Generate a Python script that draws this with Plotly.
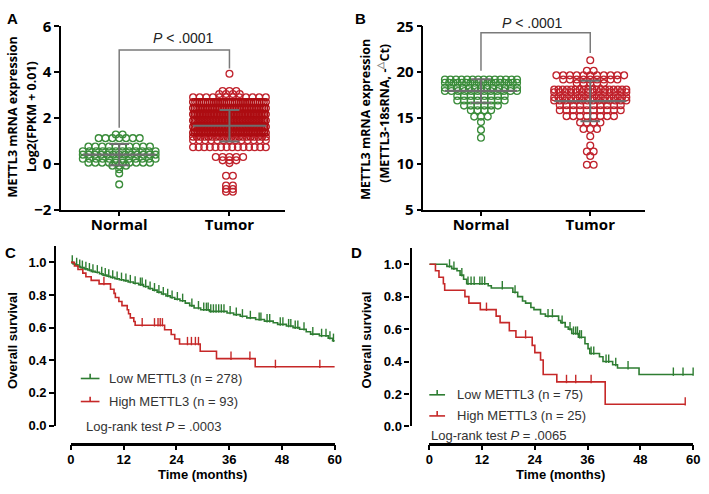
import plotly.graph_objects as go

W, H = 709, 494
def px(x): return x / W
def py(y): return 1 - y / H

# ---------------- data ----------------
groups = ["Normal", "Tumor"]

# Panel A: beeswarm rows (value, count)
a_norm_vals = [1.28, 1.12, 0.75, 0.55, 0.40, 0.22, 0.05, -0.08, -0.24, -0.42, -0.90]
a_norm_cnt = [2, 7, 10, 12, 13, 12, 10, 3, 1, 1, 1]
a_tum_vals = [3.93, 3.18, 3.05, 2.90, 2.70, 2.43, 2.16, 1.89, 1.62, 1.35, 1.18, 1.03, 0.72,
              0.30, 0.15, 0.03, -0.52, -0.95, -1.10, -1.22]
a_tum_cnt = [1, 3, 4, 12, 36, 44, 48, 50, 50, 46, 20, 13, 14, 5, 3, 1, 2, 2, 2, 2]
a_mean = [0.40, 1.66]
a_sd = [0.46, 0.69]
a_p = "<i>P</i> < .0001"
a_bracket = [4.97, 1.57, 4.16]   # top, left leg end, right leg end

# Panel B
b_norm_vals = [19.2, 18.85, 18.3, 17.95, 17.4, 16.9, 16.35, 15.85, 15.15, 14.55, 13.7, 12.85]
b_norm_cnt = [14, 18, 13, 12, 8, 8, 6, 4, 3, 1, 1, 1]
b_tum_vals = [21.3, 20.15, 19.65, 19.2, 18.8, 18.1, 17.8, 17.25, 16.9, 16.4, 15.85, 15.2,
              14.5, 13.8, 13.0, 12.0, 11.35, 10.85, 9.9]
b_tum_cnt = [1, 2, 11, 9, 5, 18, 14, 18, 14, 10, 10, 8, 4, 3, 1, 1, 2, 1, 2]
b_mean = [17.95, 16.85]
b_sd = [1.28, 2.2]
b_p = "<i>P</i> < .0001"
b_bracket = [24.3, 20.15, 22.1]

# Panel C: Kaplan-Meier (TCGA)
c_low_t = [0, 0.5, 1.0, 1.6, 2.2, 3.0, 3.8, 4.6, 5.5, 6.5, 7.3, 8.2, 9.0, 10.0, 11.0, 12.0,
           13.0, 14.2, 15.4, 16.5, 17.6, 18.6, 19.6, 20.6, 21.6, 22.6, 23.6, 24.8, 26.0,
           27.0, 28.0, 29.5, 31.5, 35.5, 37.0, 38.5, 40.0, 42.0, 44.0, 46.0, 47.0, 49.0,
           50.5, 52.0, 53.5, 54.5, 56.5, 58.5, 59.5, 60.0]
c_low_s = [1.0, 0.99, 0.985, 0.975, 0.968, 0.96, 0.953, 0.945, 0.94, 0.93, 0.922, 0.915,
           0.908, 0.90, 0.894, 0.888, 0.88, 0.872, 0.864, 0.852, 0.84, 0.83, 0.818, 0.806,
           0.795, 0.785, 0.775, 0.765, 0.75, 0.735, 0.72, 0.71, 0.70, 0.69, 0.68, 0.67,
           0.66, 0.65, 0.64, 0.63, 0.62, 0.61, 0.60, 0.59, 0.575, 0.56, 0.55, 0.535, 0.52, 0.52]
c_low_cens = [0.3, 1.3, 2.0, 2.6, 3.4, 4.2, 5.0, 6.0, 7.0, 7.8, 8.6, 9.5, 10.5, 11.5, 12.5,
              13.5, 14.6, 15.8, 16.2, 17.0, 18.0, 19.0, 20.0, 21.0, 22.0, 23.0, 24.2, 25.4,
              27.5, 29.0, 30.2, 30.8, 31.2, 31.8, 32.4, 33.0, 33.6, 34.2, 34.8, 36.2, 37.6,
              39.0, 40.8, 42.8, 43.2, 44.6, 45.2, 47.6, 48.2, 49.5, 50.0, 51.0, 51.6, 53.0,
              55.0, 57.0, 58.0, 58.9, 59.7]
c_high_t = [0, 0.8, 1.6, 2.7, 3.4, 4.6, 6.4, 9.0, 9.8, 10.1, 10.9, 11.6, 12.8, 13.1, 13.5,
            14.3, 14.6, 21.3, 22.8, 23.6, 24.7, 29.4, 33.1, 41.9, 60.0]
c_high_s = [1.0, 0.978, 0.956, 0.934, 0.912, 0.89, 0.868, 0.835, 0.81, 0.785, 0.76, 0.735,
            0.71, 0.685, 0.66, 0.638, 0.615, 0.587, 0.558, 0.53, 0.50, 0.455, 0.41, 0.36, 0.36]
c_high_cens = [7.5, 16.2, 19.0, 19.8, 20.3, 20.8, 26.5, 27.4, 28.3, 29.0, 36.4, 40.7, 46.5, 56.6]
c_labels = ["Low METTL3 (n = 278)", "High METTL3 (n = 93)"]
c_p = "Log-rank test <i>P</i> = .0003"

# Panel D: Kaplan-Meier (cohort)
d_low_t = [0, 4.0, 5.1, 6.3, 7.0, 7.8, 8.5, 13.4, 14.1, 19.0, 20.1, 21.2, 21.9, 23.1, 23.8,
           25.3, 26.4, 29.4, 29.9, 30.9, 31.6, 32.4, 33.9, 35.4, 36.1, 36.5, 38.7, 39.5,
           41.7, 42.8, 47.7, 60.0]
d_low_s = [1.0, 0.987, 0.973, 0.96, 0.933, 0.907, 0.88, 0.867, 0.853, 0.827, 0.80, 0.773,
           0.76, 0.733, 0.72, 0.693, 0.68, 0.653, 0.64, 0.613, 0.60, 0.573, 0.55, 0.51,
           0.48, 0.45, 0.43, 0.40, 0.38, 0.36, 0.32, 0.32]
d_low_cens = [4.6, 5.6, 7.4, 8.8, 9.5, 10.2, 11.5, 12.0, 12.6, 16.6, 19.5, 27.0, 28.0, 30.2,
              32.0, 32.8, 33.3, 33.7, 34.2, 34.6, 36.8, 37.4, 40.2, 40.8, 42.4, 45.2, 55.5,
              57.7, 60.0]
d_high_t = [0, 1.4, 2.2, 3.2, 3.5, 8.1, 9.0, 11.6, 15.2, 16.1, 18.2, 19.7, 23.4, 24.0, 25.3,
            25.9, 29.0, 40.0, 58.2]
d_high_s = [1.0, 0.96, 0.92, 0.88, 0.84, 0.80, 0.76, 0.72, 0.68, 0.64, 0.59, 0.55, 0.50,
            0.455, 0.41, 0.32, 0.275, 0.137, 0.137]
d_high_cens = [13.0, 21.9, 31.2, 33.3, 36.8, 58.2]
d_labels = ["Low METTL3 (n = 75)", "High METTL3 (n = 25)"]
d_p = "Log-rank test <i>P</i> = .0065"

time_ticks = [0, 12, 24, 36, 48, 60]
surv_ticks = [0.0, 0.2, 0.4, 0.6, 0.8, 1.0]

# ---------------- styles ----------------
GREEN_PT = "#3a8c3a"
RED_PT = "#c0222c"
DENSE_RED = "#ad0d12"
GRAY = "#6e6e6e"
KM_GREEN = "#2e7d32"
KM_RED = "#c62828"
FONT_AB = "Open Sans"
FONT_CD = "Liberation Sans"

fig = go.Figure()


def swarm(vals, cnts, center, step=0.062, half=0.33):
    xs, ys, dense = [], [], []
    for v, n in zip(vals, cnts):
        if n == 1:
            xs.append(center); ys.append(v); dense.append(False); continue
        width = min((n - 1) * step, 2 * half)
        for i in range(n):
            xs.append(center - width / 2 + i * width / (n - 1)); ys.append(v)
            dense.append(width / (n - 1) < 0.035)
    return xs, ys, dense


def add_dot_panel(xa, ya, norm_v, norm_c, tum_v, tum_c, mean, sd, bracket):
    for ci, (vals, cnts, col) in enumerate([(norm_v, norm_c, GREEN_PT), (tum_v, tum_c, RED_PT)]):
        xs, ys, dense = swarm(vals, cnts, ci)
        cols = [DENSE_RED if (d and col == RED_PT) else col for d in dense]
        fig.add_trace(go.Scatter(x=xs, y=ys, mode="markers", xaxis=xa, yaxis=ya,
                                 marker=dict(symbol="circle-open", size=6.8, color=cols,
                                             line=dict(width=1.3, color=cols)),
                                 showlegend=False, hoverinfo="skip", cliponaxis=False))
    for ci in range(2):
        m, s = mean[ci], sd[ci]
        fig.add_trace(go.Scatter(x=[ci - 0.33, ci + 0.33], y=[m, m], mode="lines",
                                 xaxis=xa, yaxis=ya, line=dict(color=GRAY, width=2.2),
                                 showlegend=False, hoverinfo="skip"))
        fig.add_trace(go.Scatter(x=[ci - 0.09, ci + 0.09, None, ci, ci, None, ci - 0.09, ci + 0.09],
                                 y=[m + s, m + s, None, m + s, m - s, None, m - s, m - s],
                                 mode="lines", xaxis=xa, yaxis=ya,
                                 line=dict(color=GRAY, width=2), showlegend=False,
                                 hoverinfo="skip"))
    top, lb, rb = bracket
    fig.add_trace(go.Scatter(x=[0, 0, 1, 1], y=[lb, top, top, rb], mode="lines",
                             xaxis=xa, yaxis=ya, line=dict(color="#7a7a7a", width=1.5),
                             showlegend=False, hoverinfo="skip", cliponaxis=False))


add_dot_panel("x", "y", a_norm_vals, a_norm_cnt, a_tum_vals, a_tum_cnt, a_mean, a_sd, a_bracket)
add_dot_panel("x2", "y2", b_norm_vals, b_norm_cnt, b_tum_vals, b_tum_cnt, b_mean, b_sd, b_bracket)


def surv_at(ts, ss, t):
    val = ss[0]
    for ti, si in zip(ts, ss):
        if ti <= t:
            val = si
    return val


def add_km(xa, ya, t, s, cens, col, pxu):
    fig.add_trace(go.Scatter(x=t, y=s, mode="lines", line_shape="hv", xaxis=xa, yaxis=ya,
                             line=dict(color=col, width=1.6), showlegend=False,
                             hoverinfo="skip", cliponaxis=False))
    off = 3.0 / pxu
    fig.add_trace(go.Scatter(x=cens, y=[surv_at(t, s, c) + off for c in cens], mode="markers",
                             xaxis=xa, yaxis=ya,
                             marker=dict(symbol="line-ns", size=6, line=dict(width=1.4, color=col)),
                             showlegend=False, hoverinfo="skip", cliponaxis=False))


add_km("x3", "y3", c_low_t, c_low_s, c_low_cens, KM_GREEN, 170)
add_km("x3", "y3", c_high_t, c_high_s, c_high_cens, KM_RED, 170)
add_km("x4", "y4", d_low_t, d_low_s, d_low_cens, KM_GREEN, 169)
add_km("x4", "y4", d_high_t, d_high_s, d_high_cens, KM_RED, 169)

# ---------------- axes ----------------
ab_tick = dict(family=FONT_AB, size=15, color="black", weight=700)
cd_tick = dict(family=FONT_CD, size=13, color="black", weight=700)


def cat_x(domain, anchor):
    return dict(domain=domain, range=[-0.527, 1.5], anchor=anchor, showline=True,
                linecolor="black", linewidth=1.5, ticks="outside", ticklen=5, tickwidth=1.5,
                tickcolor="black", tickvals=[0, 1], ticktext=groups, tickfont=ab_tick,
                ticklabelstandoff=-4,
                showgrid=False, zeroline=False, fixedrange=True)


def val_y(rng, tv, anchor):
    return dict(domain=[py(207), py(16)], range=rng, anchor=anchor, showline=True,
                linecolor="black", linewidth=1.5, ticks="outside", ticklen=5, tickwidth=1.5,
                tickcolor="black", tickvals=tv, tickfont=ab_tick, showgrid=False,
                zeroline=False, fixedrange=True)


def time_x(domain, pos):
    return dict(domain=domain, range=[0, 60], anchor="free", position=pos, showline=True,
                linecolor="black", linewidth=2.5, ticks="outside", ticklen=5, tickwidth=2,
                tickcolor="black", tickvals=time_ticks, tickfont=cd_tick, showgrid=False,
                ticklabelstandoff=-2,
                zeroline=False, fixedrange=True)


def surv_y(domain, pos):
    return dict(domain=domain, range=[0, 1.1], anchor="free", position=pos, showline=True,
                linecolor="black", linewidth=2.2, ticks="outside", ticklen=5, tickwidth=2,
                tickcolor="black", tickvals=surv_ticks, ticktext=[f"{v:.1f}" for v in surv_ticks],
                tickfont=cd_tick, showgrid=False, zeroline=False, fixedrange=True)


fig.update_layout(
    width=W, height=H, margin=dict(l=0, r=0, t=0, b=0),
    paper_bgcolor="white", plot_bgcolor="rgba(0,0,0,0)", showlegend=False,
    xaxis=cat_x([px(58), px(285)], "y"),
    yaxis=val_y([-2, 6], [-2, 0, 2, 4, 6], "x"),
    xaxis2=cat_x([px(426), px(651)], "y2"),
    yaxis2=val_y([5, 25], [5, 10, 15, 20, 25], "x2"),
    xaxis3=time_x([px(68), px(336)], py(451)),
    yaxis3=surv_y([py(432), py(245)], px(52)),
    xaxis4=time_x([px(432), px(700)], py(451)),
    yaxis4=surv_y([py(433), py(247)], px(413)),
)

ann = []


def paper_text(x, y, text, size, family, angle=0, xanchor="center", weight=None, color="black"):
    f = dict(family=family, size=size, color=color)
    if weight:
        f["weight"] = weight
    ann.append(dict(x=px(x), y=py(y), xref="paper", yref="paper", text=text, showarrow=False,
                    textangle=angle, xanchor=xanchor, yanchor="middle", font=f))


# panel letters
for letter, x, y in [("A", 9, 8), ("B", 362, 8), ("C", 7, 252), ("D", 358, 252)]:
    paper_text(x, y, f"<b>{letter}</b>", 15, FONT_CD)

# y titles A/B
paper_text(9, 110, "METTL3 mRNA expression", 12.5, FONT_AB, -90, weight=700)
paper_text(28, 110, "Log2(FPKM + 0.01)", 12.5, FONT_AB, -90, weight=700)
paper_text(367, 113, "METTL3 mRNA expression", 12.5, FONT_AB, -90, weight=700)
paper_text(385, 107, "(METTL3-18sRNA, -<sup><span style='color:#888'>△</span></sup>Ct)", 12.5,
           FONT_AB, -90, weight=700)

# P values A/B
paper_text(182, 28, a_p, 14, FONT_CD, color="#222")
paper_text(537, 13, b_p, 14, FONT_CD, color="#222")

# C/D titles
for cx, cy in [(8, 343), (368, 343)]:
    paper_text(cx, cy, "<b>Overall survival</b>", 13, FONT_CD, -90)
for cx in [202, 565]:
    paper_text(cx, 483, "<b>Time (months)</b>", 13, FONT_CD)

# C/D legends and log-rank text
shapes = []


def legend_item(x0, x1, y, col, label, tx):
    shapes.append(dict(type="line", xref="paper", yref="paper", x0=px(x0), x1=px(x1),
                       y0=py(y), y1=py(y), line=dict(color=col, width=1.6)))
    xm = (x0 + x1) / 2
    shapes.append(dict(type="line", xref="paper", yref="paper", x0=px(xm), x1=px(xm),
                       y0=py(y), y1=py(y - 5), line=dict(color=col, width=1.6)))
    paper_text(tx, y, label, 13, FONT_CD, xanchor="left", color="#333")


legend_item(78, 97, 383, KM_GREEN, c_labels[0], 105)
legend_item(78, 97, 407, KM_RED, c_labels[1], 105)
paper_text(81, 433, c_p, 13, FONT_CD, xanchor="left", color="#333")

legend_item(432, 448, 400, KM_GREEN, d_labels[0], 458)
legend_item(432, 448, 422, KM_RED, d_labels[1], 458)
paper_text(432, 442, d_p, 13, FONT_CD, xanchor="left", color="#333")

fig.update_layout(annotations=ann, shapes=shapes)

fig.write_html("out.html", post_script="document.body.style.margin='0';",
               config={"displayModeBar": False})
